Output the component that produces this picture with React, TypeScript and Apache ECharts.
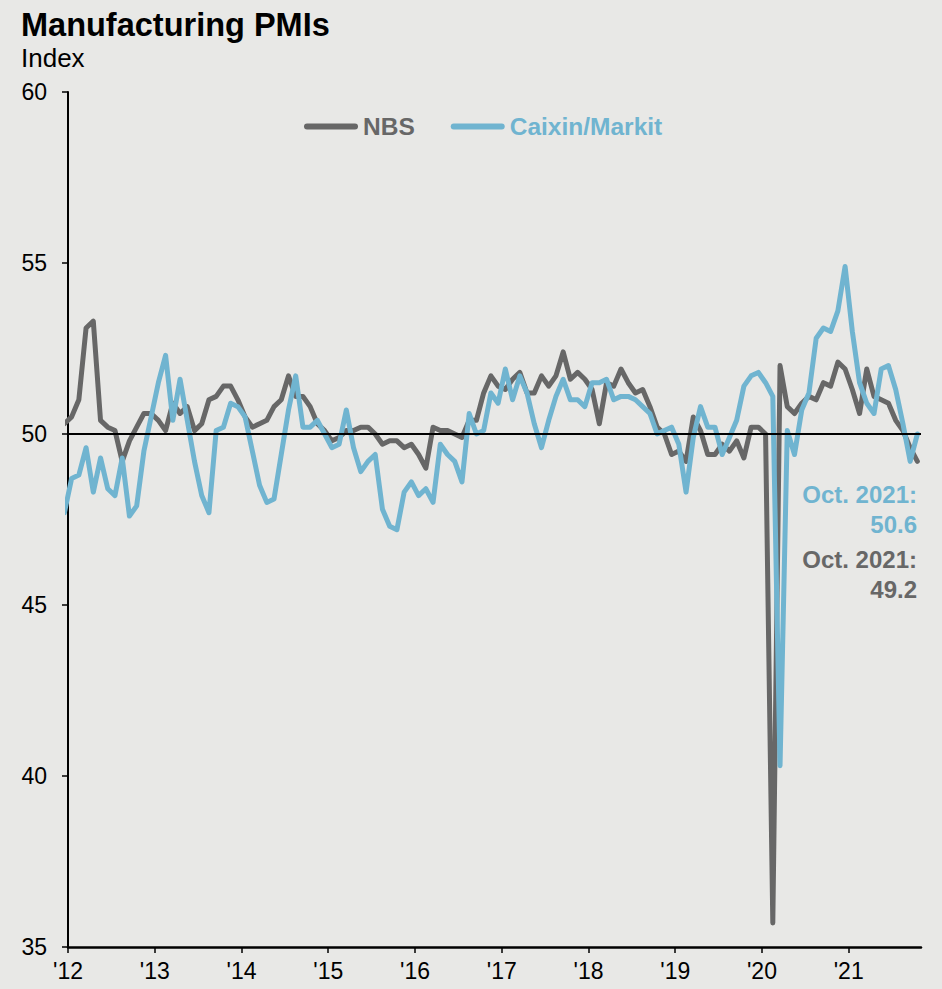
import React, { useEffect, useRef } from "react";
import * as echarts from "echarts";

// Month slots as plotted (Dec 2011 .. Oct 2021)
const START_YEAR = 2011;
const START_MONTH = 12;

// NBS manufacturing PMI, one value per slot (Dec 2011 .. Oct 2021)
const nbs2011 = [50.3];
const nbs2012 = [50.5, 51.0, 53.1, 53.3, 50.4, 50.2, 50.1, 49.2, 49.8, 50.2, 50.6, 50.6];
const nbs2013 = [50.4, 50.1, 50.9, 50.6, 50.8, 50.1, 50.3, 51.0, 51.1, 51.4, 51.4, 51.0];
const nbs2014 = [50.5, 50.2, 50.3, 50.4, 50.8, 51.0, 51.7, 51.1, 51.1, 50.8, 50.3, 50.1];
const nbs2015 = [49.8, 49.9, 50.1, 50.1, 50.2, 50.2, 50.0, 49.7, 49.8, 49.8, 49.6, 49.7];
const nbs2016 = [49.4, 49.0, 50.2, 50.1, 50.1, 50.0, 49.9, 50.4, 50.4, 51.2, 51.7, 51.4];
const nbs2017 = [51.3, 51.6, 51.8, 51.2, 51.2, 51.7, 51.4, 51.7, 52.4, 51.6, 51.8, 51.6];
const nbs2018 = [51.3, 50.3, 51.5, 51.4, 51.9, 51.5, 51.2, 51.3, 50.8, 50.2, 50.0, 49.4];
const nbs2019 = [49.5, 49.2, 50.5, 50.1, 49.4, 49.4, 49.7, 49.5, 49.8, 49.3, 50.2, 50.2];
const nbs2020 = [50.0, 35.7, 52.0, 50.8, 50.6, 50.9, 51.1, 51.0, 51.5, 51.4, 52.1, 51.9];
const nbs2021 = [51.3, 50.6, 51.9, 51.1, 51.0, 50.9, 50.4, 50.1, 49.6, 49.2];

// Caixin/Markit PMI as drawn in each slot (Dec 2011 .. Oct 2021)
const caixin2011 = [47.7];
const caixin2012 = [48.7, 48.8, 49.6, 48.3, 49.3, 48.4, 48.2, 49.3, 47.6, 47.9, 49.5, 50.5];
const caixin2013 = [51.5, 52.3, 50.4, 51.6, 50.4, 49.2, 48.2, 47.7, 50.1, 50.2, 50.9, 50.8];
const caixin2014 = [50.5, 49.5, 48.5, 48.0, 48.1, 49.4, 50.7, 51.7, 50.2, 50.2, 50.4, 50.0];
const caixin2015 = [49.6, 49.7, 50.7, 49.6, 48.9, 49.2, 49.4, 47.8, 47.3, 47.2, 48.3, 48.6];
const caixin2016 = [48.2, 48.4, 48.0, 49.7, 49.4, 49.2, 48.6, 50.6, 50.0, 50.1, 51.2, 50.9];
const caixin2017 = [51.9, 51.0, 51.7, 51.2, 50.3, 49.6, 50.4, 51.1, 51.6, 51.0, 51.0, 50.8];
const caixin2018 = [51.5, 51.5, 51.6, 51.0, 51.1, 51.1, 51.0, 50.8, 50.6, 50.0, 50.1, 50.2];
const caixin2019 = [49.7, 48.3, 49.9, 50.8, 50.2, 50.2, 49.4, 49.9, 50.4, 51.4, 51.7, 51.8];
const caixin2020 = [51.5, 51.1, 40.3, 50.1, 49.4, 50.7, 51.2, 52.8, 53.1, 53.0, 53.6, 54.9];
const caixin2021 = [53.0, 51.5, 50.9, 50.6, 51.9, 52.0, 51.3, 50.3, 49.2, 50.0];

const yearTickLabels = ["'12", "'13", "'14", "'15", "'16", "'17", "'18", "'19", "'20", "'21"];

const nbsValues = [
  ...nbs2011, ...nbs2012, ...nbs2013, ...nbs2014, ...nbs2015, ...nbs2016,
  ...nbs2017, ...nbs2018, ...nbs2019, ...nbs2020, ...nbs2021,
];
const caixinValues = [
  ...caixin2011, ...caixin2012, ...caixin2013, ...caixin2014, ...caixin2015, ...caixin2016,
  ...caixin2017, ...caixin2018, ...caixin2019, ...caixin2020, ...caixin2021,
];

// x in months since Jan 2012, placed at mid-month
const monthPos = (i: number) => {
  const total = START_YEAR * 12 + (START_MONTH - 1) + i;
  return total - 2012 * 12 + 0.5;
};

const GRAY = "#676767";
const BLUE = "#70b4d0";
const BG = "#e8e8e6";
const FONT = "'Liberation Sans', Arial, sans-serif";
const LEGEND_ICON = "path://M3,0 L51,0 A3,3 0 0 1 51,6 L3,6 A3,3 0 0 1 3,0 Z";

export default function App() {
  const ref = useRef<HTMLDivElement>(null);
  useEffect(() => {
    if (!ref.current) return;
    const chart = echarts.init(ref.current, null, { renderer: "svg" });
    const nbsData = nbsValues.map((v, i) => [monthPos(i), v]);
    const caixinData = caixinValues.map((v, i) => [monthPos(i), v]);
    const tickVals = yearTickLabels.map((_, k) => k * 12);
    chart.setOption({
      animation: false,
      backgroundColor: BG,
      textStyle: { fontFamily: FONT },
      grid: { left: 68, right: 21, top: 92, bottom: 42, containLabel: false },
      legend: {
        left: 304,
        top: 114,
        padding: 0,
        icon: LEGEND_ICON,
        itemWidth: 54,
        itemHeight: 6,
        itemGap: 36,
        textStyle: { fontSize: 24.5, fontWeight: "bold", fontFamily: FONT, padding: [0, 0, 0, 0] },
        data: [
          { name: "NBS", textStyle: { color: GRAY } },
          { name: "Caixin/Markit", textStyle: { color: BLUE } },
        ],
      },
      xAxis: {
        type: "value",
        min: 0,
        max: 118,
        splitLine: { show: false },
        axisLine: { show: true, lineStyle: { color: "#000", width: 2.5 } },
        axisTick: { show: true, length: 6, lineStyle: { color: "#000", width: 1.5 }, customValues: tickVals },
        axisLabel: {
          customValues: tickVals,
          formatter: (v: number) => yearTickLabels[Math.round(v / 12)] ?? "",
          color: "#000",
          fontSize: 23,
          fontFamily: FONT,
          margin: 12,
        },
      },
      yAxis: {
        type: "value",
        min: 35,
        max: 60,
        interval: 5,
        splitLine: { show: false },
        axisLine: { show: true, lineStyle: { color: "#000", width: 2 } },
        axisTick: { show: true, length: 6, lineStyle: { color: "#000", width: 1.5 } },
        axisLabel: { color: "#000", fontSize: 23, fontFamily: FONT, margin: 21 },
      },
      series: [
        {
          name: "NBS",
          type: "line",
          data: nbsData,
          symbol: "none",
          lineStyle: { color: GRAY, width: 5, cap: "round", join: "round" },
          itemStyle: { color: GRAY },
        },
        {
          name: "Caixin/Markit",
          type: "line",
          data: caixinData,
          symbol: "none",
          lineStyle: { color: BLUE, width: 5, cap: "round", join: "round" },
          itemStyle: { color: BLUE },
          markLine: {
            silent: true,
            symbol: "none",
            label: { show: false },
            lineStyle: { color: "#000", width: 2, type: "solid" },
            data: [{ yAxis: 50 }],
          },
        },
      ],
      graphic: [
        {
          type: "text",
          left: 21,
          top: 8,
          style: { text: "Manufacturing PMIs", fontSize: 32.5, fontWeight: "bold", fill: "#000", fontFamily: FONT },
        },
        {
          type: "text",
          left: 21,
          top: 45,
          style: { text: "Index", fontSize: 26, fill: "#000", fontFamily: FONT },
        },
        {
          type: "text",
          x: 917,
          y: 494,
          style: { text: "Oct. 2021:", fontSize: 24, fontWeight: "bold", fill: BLUE, fontFamily: FONT, textAlign: "right", textVerticalAlign: "middle" },
        },
        {
          type: "text",
          x: 917,
          y: 524,
          style: { text: "50.6", fontSize: 24, fontWeight: "bold", fill: BLUE, fontFamily: FONT, textAlign: "right", textVerticalAlign: "middle" },
        },
        {
          type: "text",
          x: 917,
          y: 559,
          style: { text: "Oct. 2021:", fontSize: 24, fontWeight: "bold", fill: GRAY, fontFamily: FONT, textAlign: "right", textVerticalAlign: "middle" },
        },
        {
          type: "text",
          x: 917,
          y: 589,
          style: { text: "49.2", fontSize: 24, fontWeight: "bold", fill: GRAY, fontFamily: FONT, textAlign: "right", textVerticalAlign: "middle" },
        },
      ],
    });
    return () => chart.dispose();
  }, []);
  return (
    <div
      ref={ref}
      style={{ position: "absolute", left: 0, top: 0, width: 942, height: 989 }}
    />
  );
}
